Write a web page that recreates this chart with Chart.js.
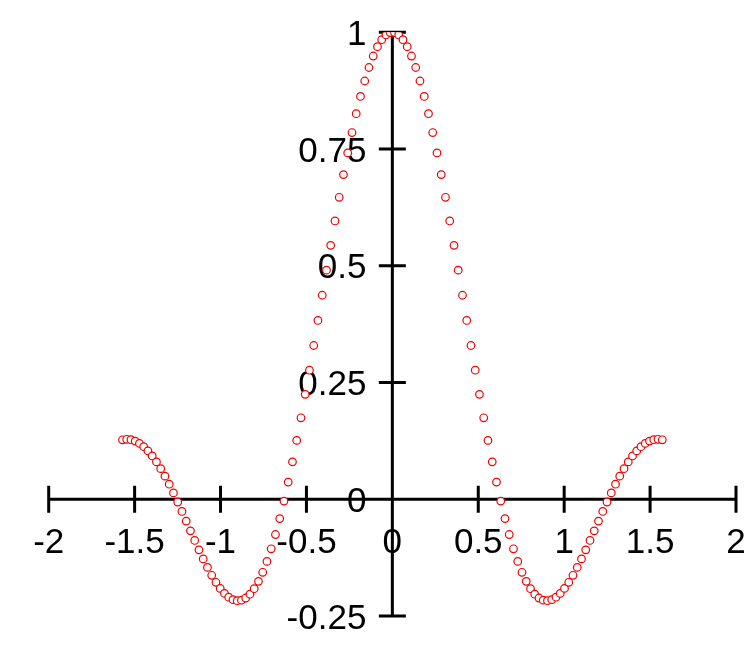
<!DOCTYPE html>
<html>
<head>
<meta charset="utf-8">
<script src="https://cdn.jsdelivr.net/npm/chart.js@4/dist/chart.umd.min.js"></script>
<style>
  html, body { margin: 0; padding: 0; background: #ffffff; }
  #wrap { width: 756px; height: 648px; }
</style>
</head>
<body>
<div id="wrap"><canvas id="c" width="756" height="648"></canvas></div>
<script>
const xValues = [
  -1.5708,-1.5461,-1.5213,-1.4966,-1.4719,-1.4471,-1.4224,-1.3977,-1.3729,-1.3482,
  -1.3234,-1.2987,-1.2740,-1.2492,-1.2245,-1.1998,-1.1750,-1.1503,-1.1255,-1.1008,
  -1.0761,-1.0513,-1.0266,-1.0019,-0.9771,-0.9524,-0.9276,-0.9029,-0.8782,-0.8534,
  -0.8287,-0.8040,-0.7792,-0.7545,-0.7297,-0.7050,-0.6803,-0.6555,-0.6308,-0.6061,
  -0.5813,-0.5566,-0.5318,-0.5071,-0.4824,-0.4576,-0.4329,-0.4082,-0.3834,-0.3587,
  -0.3339,-0.3092,-0.2845,-0.2597,-0.2350,-0.2103,-0.1855,-0.1608,-0.1360,-0.1113,
  -0.0866,-0.0618,-0.0371,-0.0124,
   0.0124, 0.0371, 0.0618, 0.0866, 0.1113, 0.1360, 0.1608, 0.1855, 0.2103, 0.2350,
   0.2597, 0.2845, 0.3092, 0.3339, 0.3587, 0.3834, 0.4082, 0.4329, 0.4576, 0.4824,
   0.5071, 0.5318, 0.5566, 0.5813, 0.6061, 0.6308, 0.6555, 0.6803, 0.7050, 0.7297,
   0.7545, 0.7792, 0.8040, 0.8287, 0.8534, 0.8782, 0.9029, 0.9276, 0.9524, 0.9771,
   1.0019, 1.0266, 1.0513, 1.0761, 1.1008, 1.1255, 1.1503, 1.1750, 1.1998, 1.2245,
   1.2492, 1.2740, 1.2987, 1.3234, 1.3482, 1.3729, 1.3977, 1.4224, 1.4471, 1.4719,
   1.4966, 1.5213, 1.5461, 1.5708
];
const yValues = [
   0.1273, 0.1284, 0.1275, 0.1246, 0.1196, 0.1126, 0.1036, 0.0927, 0.0800, 0.0656,
   0.0495, 0.0322, 0.0136,-0.0059,-0.0261,-0.0468,-0.0676,-0.0882,-0.1083,-0.1277,
  -0.1459,-0.1628,-0.1778,-0.1909,-0.2016,-0.2097,-0.2150,-0.2172,-0.2161,-0.2115,
  -0.2033,-0.1915,-0.1758,-0.1564,-0.1331,-0.1061,-0.0755,-0.0414,-0.0039, 0.0367,
   0.0801, 0.1261, 0.1744, 0.2247, 0.2764, 0.3293, 0.3829, 0.4369, 0.4906, 0.5438,
   0.5960, 0.6466, 0.6953, 0.7417, 0.7853, 0.8257, 0.8626, 0.8957, 0.9246, 0.9492,
   0.9691, 0.9841, 0.9943, 0.9994,
   0.9994, 0.9943, 0.9841, 0.9691, 0.9492, 0.9246, 0.8957, 0.8626, 0.8257, 0.7853,
   0.7417, 0.6953, 0.6466, 0.5960, 0.5438, 0.4906, 0.4369, 0.3829, 0.3293, 0.2764,
   0.2247, 0.1744, 0.1261, 0.0801, 0.0367,-0.0039,-0.0414,-0.0755,-0.1061,-0.1331,
  -0.1564,-0.1758,-0.1915,-0.2033,-0.2115,-0.2161,-0.2172,-0.2150,-0.2097,-0.2016,
  -0.1909,-0.1778,-0.1628,-0.1459,-0.1277,-0.1083,-0.0882,-0.0676,-0.0468,-0.0261,
  -0.0059, 0.0136, 0.0322, 0.0495, 0.0656, 0.0800, 0.0927, 0.1036, 0.1126, 0.1196,
   0.1246, 0.1275, 0.1284, 0.1273
];
const xTickValues = [-2, -1.5, -1, -0.5, 0, 0.5, 1, 1.5, 2];
const xTickLabels = ['-2', '-1.5', '-1', '-0.5', '0', '0.5', '1', '1.5', '2'];
const yTickValues = [-0.25, 0, 0.25, 0.5, 0.75, 1];
const yTickLabels = ['-0.25', '0', '0.25', '0.5', '0.75', '1'];

const points = xValues.map((x, i) => ({ x: x, y: yValues[i] }));

const FONT_CSS = '35px "Liberation Sans", Arial, Helvetica, sans-serif';

// axes crossing at the origin, with ticks crossing the axis lines
const crossAxes = {
  id: 'crossAxes',
  beforeDatasetsDraw(chart) {
    const ctx = chart.ctx;
    const xs = chart.scales.x, ys = chart.scales.y;
    const x0 = xs.getPixelForValue(0);
    const y0 = ys.getPixelForValue(0);
    const half = 13.5;
    ctx.save();
    ctx.strokeStyle = '#000000';
    ctx.lineWidth = 3;
    ctx.lineCap = 'butt';
    ctx.beginPath();
    ctx.moveTo(xs.getPixelForValue(xTickValues[0]) - 1.5, y0);
    ctx.lineTo(xs.getPixelForValue(xTickValues[xTickValues.length - 1]) + 1.5, y0);
    ctx.moveTo(x0, ys.getPixelForValue(yTickValues[yTickValues.length - 1]) - 1.5);
    ctx.lineTo(x0, ys.getPixelForValue(yTickValues[0]) + 1.5);
    xTickValues.forEach(v => {
      const px = xs.getPixelForValue(v);
      ctx.moveTo(px, y0 - half);
      ctx.lineTo(px, y0 + half);
    });
    yTickValues.forEach(v => {
      const py = ys.getPixelForValue(v);
      ctx.moveTo(x0 - half, py);
      ctx.lineTo(x0 + half, py);
    });
    ctx.stroke();

    // tick labels
    ctx.fillStyle = '#000000';
    ctx.font = FONT_CSS;
    ctx.textBaseline = 'alphabetic';
    ctx.textAlign = 'center';
    xTickValues.forEach((v, i) => {
      ctx.fillText(xTickLabels[i], xs.getPixelForValue(v), y0 + 54);
    });
    ctx.textAlign = 'right';
    yTickValues.forEach((v, i) => {
      ctx.fillText(yTickLabels[i], x0 - 26, ys.getPixelForValue(v) + 12.5);
    });
    ctx.restore();
  }
};

const noPad = s => { s.paddingLeft = 0; s.paddingRight = 0; s.paddingTop = 0; s.paddingBottom = 0; };

new Chart(document.getElementById('c'), {
  type: 'scatter',
  data: {
    datasets: [{
      data: points,
      showLine: false,
      pointStyle: 'circle',
      pointRadius: 3.8,
      pointHoverRadius: 3.8,
      pointBorderWidth: 1.2,
      pointBorderColor: '#f00000',
      pointBackgroundColor: '#ffffff'
    }]
  },
  options: {
    responsive: false,
    animation: false,
    devicePixelRatio: 1,
    layout: { padding: { left: 48.7, right: 20, top: 32.3, bottom: 32 } },
    plugins: { legend: { display: false }, tooltip: { enabled: false } },
    scales: {
      x: {
        type: 'linear',
        min: -2, max: 2,
        position: { y: 0 },
        grid: { display: false, drawTicks: false },
        border: { display: false },
        afterBuildTicks: s => { s.ticks = xTickValues.map(v => ({ value: v })); },
        afterFit: noPad,
        ticks: { display: false }
      },
      y: {
        type: 'linear',
        min: -0.25, max: 1,
        position: { x: 0 },
        grid: { display: false, drawTicks: false },
        border: { display: false },
        afterBuildTicks: s => { s.ticks = yTickValues.map(v => ({ value: v })); },
        afterFit: noPad,
        ticks: { display: false }
      }
    }
  },
  plugins: [crossAxes]
});
</script>
</body>
</html>
